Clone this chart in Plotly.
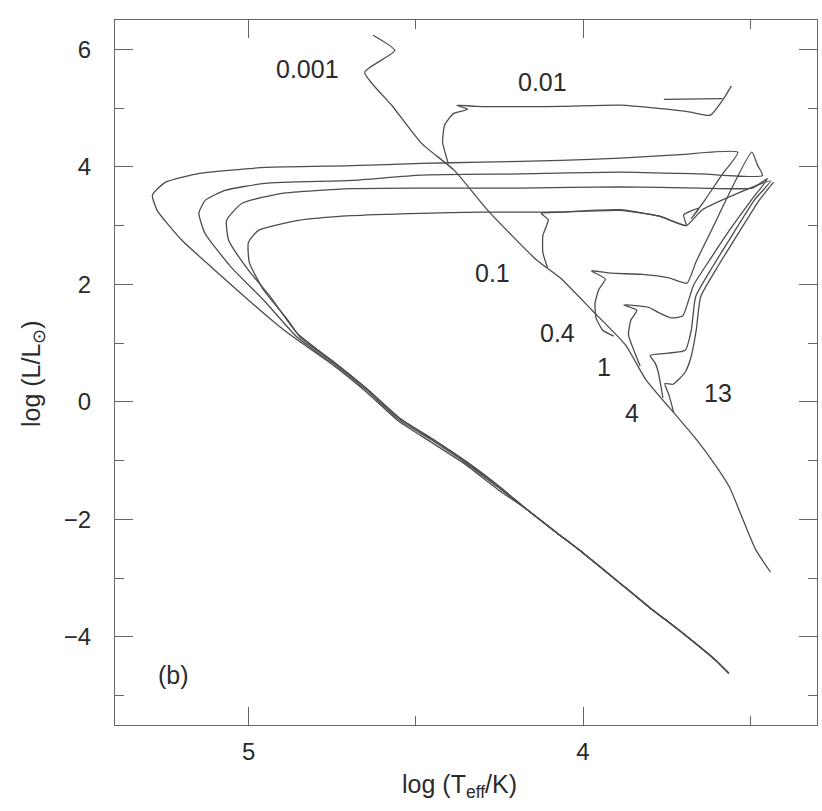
import plotly.graph_objects as go

# Isochrones in the HR diagram: log Teff (x) and log L/Lsun (y); ages in Gyr.
# 0.001 Gyr: main sequence up to the most massive stars
ms_x = [3.439, 3.483, 3.521, 3.562, 3.600, 3.658, 3.717, 3.811, 3.873, 3.973,
        4.070, 4.138, 4.285, 4.385, 4.483, 4.571, 4.653, 4.563, 4.628]
ms_y = [-2.90, -2.52, -2.01, -1.45, -1.11, -0.66, -0.26, 0.37, 0.97, 1.56,
        2.12, 2.41, 3.26, 3.94, 4.40, 5.04, 5.61, 5.98, 6.24]

# 0.01 Gyr: turn-off, hook and red supergiants
iso_001_x = [4.403, 4.420, 4.414, 4.387, 4.345, 4.378, 4.318, 4.065, 3.887, 3.687,
             3.619, 3.583, 3.556, None, 3.758, 3.583]
iso_001_y = [4.06, 4.42, 4.71, 4.91, 4.98, 5.05, 5.03, 5.03, 5.05, 4.94,
             4.88, 5.13, 5.38, None, 5.15, 5.16]

# 0.1 Gyr: turn-off, giant branch, post-AGB crossing and white-dwarf knee
iso_01_x = [4.106, 4.120, 4.120, 4.104, 4.125, 4.068, 3.890, 3.771, 3.691, 3.699,
            3.652, 3.676, 3.636, 3.585, 3.537, 3.709, 3.888, 4.067, 4.305, 4.484,
            4.692, 4.951, 5.147, 5.249, 5.288, 5.274, 5.200, 5.103, 5.002, 4.905,
            4.858, 4.748, 4.648, 4.551, 4.453, 4.353, 4.255]
iso_01_y = [2.28, 2.54, 2.83, 3.10, 3.21, 3.23, 3.27, 3.16, 3.00, 3.18,
            3.30, 3.12, 3.43, 3.86, 4.25, 4.21, 4.15, 4.11, 4.08, 4.06,
            4.02, 3.99, 3.89, 3.74, 3.52, 3.26, 2.75, 2.25, 1.74, 1.27,
            1.07, 0.63, 0.17, -0.33, -0.69, -1.06, -1.49]

# 0.4 Gyr
iso_04_x = [3.908, 3.941, 3.961, 3.964, 3.952, 3.933, 3.975, 3.915, 3.823, 3.743,
            3.689, 3.662, 3.620, 3.495, 3.478, 3.463, 3.650, 3.889, 4.186, 4.484,
            4.692, 4.951, 5.071, 5.130, 5.149, 5.131, 5.052, 4.955, 4.855, 4.748,
            4.648, 4.551, 4.453, 4.353, 4.255]
iso_04_y = [1.12, 1.22, 1.43, 1.68, 1.92, 2.09, 2.23, 2.19, 2.17, 2.11,
            2.02, 2.38, 2.87, 4.25, 4.03, 3.85, 3.88, 3.91, 3.88, 3.86,
            3.77, 3.72, 3.60, 3.43, 3.21, 2.87, 2.29, 1.73, 1.10, 0.66,
            0.20, -0.30, -0.65, -1.03, -1.45]

# 1 Gyr
iso_1_x = [3.829, 3.846, 3.864, 3.857, 3.839, 3.878, 3.803, 3.774, 3.738, 3.702,
           3.684, 3.669, 3.617, 3.557, 3.497, 3.448, 3.493, 3.651, 3.889, 4.187,
           4.484, 4.693, 4.901, 5.020, 5.066, 5.060, 5.002, 4.934, 4.855, 4.748,
           4.648, 4.551, 4.453, 4.353, 4.255]
iso_1_y = [0.61, 0.85, 1.14, 1.39, 1.56, 1.65, 1.61, 1.52, 1.43, 1.46,
           1.73, 1.99, 2.45, 2.96, 3.43, 3.80, 3.64, 3.64, 3.66, 3.64,
           3.64, 3.63, 3.55, 3.38, 3.09, 2.75, 2.25, 1.78, 1.17, 0.69,
           0.23, -0.27, -0.62, -1.00, -1.42]

# 4 Gyr
iso_4_x = [3.761, 3.775, 3.784, 3.799, 3.745, 3.694, 3.676, 3.663, 3.609, 3.548,
           3.488, 3.439, 3.643, 3.691, 3.771, 3.890, 4.068, 4.306, 4.485, 4.693,
           4.851, 4.971, 5.001, 4.998, 4.955, 4.884, 4.846, 4.742, 4.642, 4.545,
           4.447, 4.347, 4.249]
iso_4_y = [0.07, 0.51, 0.66, 0.79, 0.83, 0.88, 1.22, 1.79, 2.33, 2.89,
           3.43, 3.76, 3.27, 3.00, 3.16, 3.26, 3.23, 3.23, 3.21, 3.17,
           3.09, 2.92, 2.71, 2.37, 1.90, 1.40, 1.10, 0.66, 0.20, -0.29,
           -0.65, -1.03, -1.45]

# 13 Gyr
iso_13_x = [3.729, 3.743, 3.755, 3.731, 3.695, 3.677, 3.661, 3.648, 3.594, 3.533,
            3.473, 3.430]
iso_13_y = [-0.17, 0.12, 0.31, 0.30, 0.50, 0.76, 1.23, 1.79, 2.33, 2.89,
            3.43, 3.74]

# common white-dwarf cooling sequence
wd_x = [4.166, 4.078, 3.998, 3.901, 3.803, 3.703, 3.605, 3.564]
wd_y = [-1.84, -2.23, -2.58, -3.03, -3.49, -3.93, -4.39, -4.62]

# age labels and their anchor points
age_labels = ["0.001", "0.01", "0.1", "0.4", "1", "4", "13"]
age_label_x = [4.823, 4.121, 4.272, 4.075, 3.936, 3.854, 3.595]
age_label_y = [5.66, 5.44, 2.19, 1.17, 0.59, -0.19, 0.15]

FONT = "Liberation Sans, Arial, Helvetica, sans-serif"
INK = "#2b2b2b"
LINE = "#4d4d4d"
FRAME = "#666666"

tracks = [
    ("0.001", ms_x, ms_y),
    ("0.01", iso_001_x, iso_001_y),
    ("0.1", iso_01_x + wd_x, iso_01_y + wd_y),
    ("0.4", iso_04_x + wd_x, iso_04_y + wd_y),
    ("1", iso_1_x + wd_x, iso_1_y + wd_y),
    ("4", iso_4_x + wd_x, iso_4_y + wd_y),
    ("13", iso_13_x, iso_13_y),
]

fig = go.Figure()
for name, xs, ys in tracks:
    fig.add_trace(go.Scatter(
        x=xs, y=ys, mode="lines", name=name + " Gyr",
        line=dict(color=LINE, width=1.3, shape="spline", smoothing=0.5),
        connectgaps=False, hoverinfo="skip", showlegend=False,
    ))

for text, lx, ly in zip(age_labels, age_label_x, age_label_y):
    fig.add_annotation(x=lx, y=ly, xref="x", yref="y", text=text,
                       xanchor="center", yanchor="middle", showarrow=False,
                       font=dict(family=FONT, size=25, color=INK))

fig.add_annotation(x=5.225, y=-4.65, xref="x", yref="y", text="(b)",
                   xanchor="center", yanchor="middle", showarrow=False,
                   font=dict(family=FONT, size=25, color=INK))

# axis titles
fig.add_annotation(x=0.491, y=-0.087, xref="paper", yref="paper",
                   text="log (T<sub>eff</sub>/K)", showarrow=False,
                   xanchor="center", yanchor="middle",
                   font=dict(family=FONT, size=25, color=INK))
fig.add_annotation(x=-0.117, y=0.499, xref="paper", yref="paper",
                   text="log (L/L<sub>⊙</sub>)", textangle=-90, showarrow=False,
                   xanchor="center", yanchor="middle",
                   font=dict(family=FONT, size=25, color=INK))

axis_common = dict(
    showgrid=False, zeroline=False, showline=True, linecolor=FRAME, linewidth=1.3,
    mirror="allticks", ticks="inside", ticklen=18, tickwidth=1.3, tickcolor=FRAME,
    tickfont=dict(family=FONT, size=24, color=INK),
)

fig.update_xaxes(range=[5.4, 3.3], tick0=4, dtick=1,
                 minor=dict(dtick=0.5, ticks="inside", ticklen=9, tickcolor=FRAME, tickwidth=1.3),
                 ticklabelstandoff=5, **axis_common)
fig.update_yaxes(range=[-5.5, 6.5], tick0=0, dtick=2,
                 minor=dict(dtick=1, ticks="inside", ticklen=9, tickcolor=FRAME, tickwidth=1.3),
                 ticklabelstandoff=18, **axis_common)

fig.update_layout(
    width=822, height=811,
    margin=dict(l=115, r=5, t=20, b=86),
    paper_bgcolor="white", plot_bgcolor="white",
    showlegend=False,
)

fig.write_html("out.html")
